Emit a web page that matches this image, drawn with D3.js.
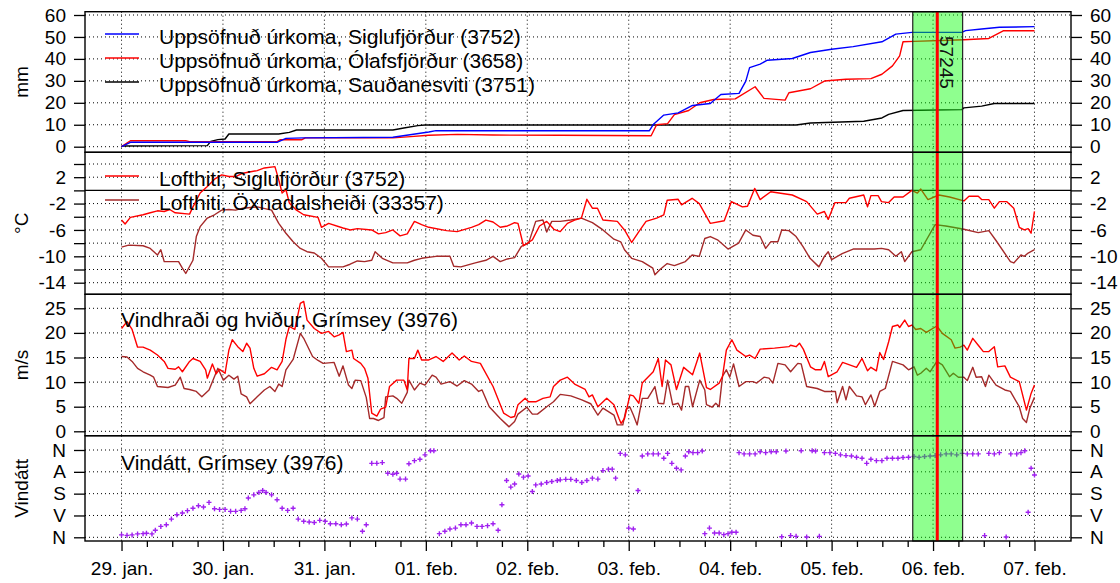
<!DOCTYPE html>
<html>
<head>
<meta charset="utf-8">
<script src="https://cdn.jsdelivr.net/npm/d3@7"></script>
<style>
  body { margin: 0; background: #fff; }
  svg text { font-family: "Liberation Sans", Arial, sans-serif; }
</style>
</head>
<body>
<div id="chart"></div>
<script>
// hours are counted from 29. jan. 00:00

// accumulated precipitation (mm)
var sigPrecHours = [0, 2.1, 36.8, 38.9, 43.1, 64.2, 72.7, 74.4, 124.9, 125.8, 128.3, 131.7, 135.1, 139.3, 141.8, 146.1, 147.7, 148.6, 151.1, 152.8, 158.7, 163.0, 168.0, 173.1, 179.9, 183.2, 187.0, 198.8, 199.7, 203.5, 207.7, 216.0];
var sigPrec = [0, 2.0, 2.0, 3.8, 4.0, 4.3, 6.7, 7.3, 7.3, 10.1, 14.4, 15.4, 18.8, 19.7, 23.8, 24.3, 29.9, 36.0, 37.6, 39.4, 40.2, 42.9, 44.4, 45.6, 47.8, 51.3, 52.1, 52.1, 52.9, 53.6, 54.4, 54.7];

var olaPrecHours = [0, 2.1, 15.2, 16.1, 36.8, 37.6, 42.7, 43.5, 64.2, 68.4, 72.7, 79.4, 87.9, 103.8, 125.3, 126.6, 129.2, 130.8, 134.2, 136.8, 140.1, 145.2, 149.9, 152.0, 157.0, 157.9, 163.0, 166.3, 171.4, 177.3, 179.9, 182.4, 184.1, 184.9, 187.5, 199.3, 205.2, 208.6, 216.0];
var olaPrec = [0, 2.7, 2.7, 2.3, 2.3, 3.2, 3.2, 4.0, 4.0, 4.6, 5.2, 5.6, 5.3, 5.2, 5.0, 10.0, 10.5, 14.6, 16.5, 20.0, 21.5, 21.8, 27.3, 22.0, 21.2, 24.6, 26.4, 29.9, 30.7, 31.0, 33.0, 36.8, 41.4, 47.8, 48.0, 48.7, 49.3, 52.8, 52.8];

var sauPrecHours = [0, 20.3, 21.1, 22.8, 24.5, 25.4, 37.2, 39.7, 41.4, 64.2, 66.8, 70.1, 71.8, 159.6, 163.0, 175.6, 179.9, 181.5, 184.9, 198.8, 199.3, 203.5, 206.5, 216.0];
var sauPrec = [0.3, 0.5, 2.4, 3.2, 3.5, 5.8, 5.8, 6.5, 7.6, 7.6, 8.5, 9.6, 9.9, 9.9, 10.8, 11.6, 13.1, 14.7, 16.5, 16.9, 17.7, 18.5, 19.7, 19.7];

// air temperature (°C)
var sigTempHours = [0, 0.85, 2.1, 5.1, 6.8, 8.5, 10.1, 11.4, 12.7, 16.1, 16.9, 18.6, 20.3, 22.0, 23.7, 25.4, 27.0, 28.7, 32.1, 33.8, 36.3, 37.2, 38.0, 38.9, 39.7, 41.4, 43.1, 46.5, 47.3, 49.0, 52.4, 54.1, 55.8, 59.2, 60.8, 62.5, 64.2, 65.9, 67.6, 69.3, 71.0, 72.7, 76.9, 79.4, 82.8, 84.5, 86.2, 87.9, 89.6, 91.3, 93.0, 93.8, 95.1, 97.2, 98.9, 100.6, 102.3, 103.8, 105.5, 107.2, 108.8, 110.1, 111.4, 112.6, 113.9, 117.3, 119.0, 120.7, 122.4, 124.1, 126.6, 128.3, 129.1, 131.7, 132.5, 135.0, 136.7, 139.3, 142.6, 144.3, 146.9, 148.1, 149.8, 151.1, 153.6, 158.7, 162.1, 164.6, 166.3, 167.2, 168.8, 171.4, 172.2, 175.6, 176.5, 177.3, 179.0, 179.8, 181.5, 182.8, 184.9, 187.0, 188.3, 189.1, 190.8, 193.4, 195.9, 199.3, 200.5, 202.7, 203.5, 205.2, 206.5, 207.7, 209.4, 211.1, 212.4, 213.6, 214.5, 215.2, 216.0];
var sigTemp = [-4.5, -5.1, -4.1, -3.7, -3.4, -3.1, -3.2, -2.9, -3.4, -3.6, -2.5, -0.4, 0.6, 1.7, 2.35, 2.1, 2.1, 2.6, 3.0, 3.4, 3.6, 1.6, -0.4, 0.1, -1.9, -3.0, -3.7, -4.1, -5.6, -5.0, -5.7, -6.0, -5.8, -6.0, -6.6, -6.4, -6.0, -6.9, -6.6, -4.7, -5.2, -5.6, -6.1, -6.25, -5.6, -5.2, -4.5, -4.8, -5.6, -5.4, -4.9, -5.0, -8.4, -7.5, -5.4, -4.7, -5.9, -6.25, -5.0, -4.5, -4.2, -1.35, -2.7, -2.7, -4.5, -4.7, -6.0, -7.9, -6.25, -4.7, -4.2, -3.7, -1.5, -1.35, -2.2, -1.2, -2.0, -5.0, -4.6, -1.7, -2.5, -2.4, 0.3, -1.4, -0.2, -0.7, -1.7, -3.6, -3.2, -4.4, -1.85, -1.85, -1.2, -0.7, -2.5, -0.8, -0.8, -1.7, -1.85, -1.0, -1.0, 0.0, -0.4, 0.2, -1.4, -0.7, -1.0, -1.6, -0.9, -0.9, -1.4, -1.4, -2.7, -1.7, -1.7, -2.7, -5.6, -6.0, -5.8, -6.5, -3.2];

var oxnTempHours = [0, 1.7, 5.1, 6.8, 8.5, 9.3, 10.1, 13.5, 14.4, 15.2, 16.9, 17.7, 18.6, 20.3, 22.0, 23.7, 25.4, 27.0, 28.7, 32.1, 35.5, 37.2, 38.9, 40.6, 42.3, 43.9, 45.6, 47.3, 49.0, 52.4, 54.1, 55.8, 57.5, 59.2, 60.0, 61.7, 64.2, 67.6, 69.3, 71.0, 74.4, 77.7, 78.6, 80.3, 82.0, 83.7, 86.2, 87.9, 89.6, 91.3, 93.0, 94.6, 96.3, 98.0, 99.7, 100.6, 101.8, 103.8, 106.3, 108.8, 111.4, 113.9, 116.5, 118.1, 119.0, 120.7, 123.2, 125.7, 126.2, 127.4, 129.1, 130.8, 133.4, 135.0, 136.7, 138.0, 139.3, 141.0, 143.5, 146.0, 147.7, 149.4, 151.1, 152.4, 153.6, 155.3, 156.2, 157.9, 159.6, 161.2, 162.9, 165.0, 166.3, 167.2, 168.0, 170.5, 173.1, 178.1, 179.8, 181.5, 183.2, 184.5, 185.3, 187.0, 189.1, 192.5, 195.0, 196.7, 199.3, 202.7, 205.2, 206.9, 210.3, 211.1, 212.8, 213.6, 214.5, 216.0];
var oxnTemp = [-8.6, -8.3, -8.4, -8.8, -9.8, -9.0, -10.8, -10.8, -11.8, -12.6, -10.6, -7.0, -5.5, -4.2, -3.7, -3.0, -2.9, -3.0, -2.7, -2.5, -3.0, -5.0, -6.5, -7.8, -8.8, -9.3, -9.5, -10.3, -11.6, -11.6, -11.2, -10.7, -10.8, -10.6, -9.3, -10.3, -11.0, -11.0, -10.6, -10.3, -10.0, -10.0, -11.5, -11.6, -11.3, -11.0, -10.6, -10.0, -10.8, -10.4, -10.2, -8.5, -8.0, -4.7, -4.5, -6.3, -4.7, -4.7, -4.5, -4.2, -4.9, -6.0, -7.4, -7.8, -9.0, -10.3, -10.8, -11.8, -12.8, -12.0, -11.1, -11.4, -10.8, -9.8, -10.0, -7.3, -7.0, -7.5, -8.9, -8.0, -6.0, -6.8, -7.0, -8.8, -7.8, -7.8, -6.0, -6.1, -7.0, -8.5, -10.3, -11.6, -10.0, -9.3, -10.5, -9.6, -8.9, -8.9, -8.8, -9.0, -10.0, -9.3, -10.8, -9.3, -9.0, -5.2, -5.4, -5.6, -5.9, -6.4, -6.1, -7.6, -10.8, -11.0, -9.8, -10.0, -9.5, -9.0];

// wind speed and gusts, Grímsey (m/s)
var gustHours = [0, 1.3, 2.5, 3.8, 5.1, 6.8, 8.5, 10.1, 11.0, 12.7, 13.5, 14.4, 16.1, 16.9, 18.6, 19.9, 20.3, 21.5, 22.4, 23.2, 24.5, 25.4, 26.2, 27.5, 28.7, 29.6, 30.4, 31.3, 32.1, 33.8, 35.5, 36.8, 38.0, 38.9, 39.7, 41.0, 42.3, 43.1, 43.9, 45.6, 47.3, 49.0, 50.3, 51.5, 52.4, 53.2, 54.5, 54.9, 56.6, 57.5, 58.3, 59.2, 60.4, 61.3, 62.5, 63.4, 65.1, 66.8, 67.6, 68.0, 69.3, 70.1, 71.0, 72.7, 74.4, 76.1, 78.2, 79.9, 81.1, 82.8, 84.9, 87.9, 90.4, 92.1, 93.0, 93.8, 95.5, 96.3, 98.0, 99.7, 101.4, 102.2, 103.8, 105.5, 107.2, 109.7, 110.6, 111.4, 112.7, 114.8, 116.5, 117.7, 118.2, 119.0, 120.3, 121.1, 122.4, 123.2, 125.8, 127.0, 127.9, 128.7, 130.0, 131.3, 133.0, 135.1, 136.8, 138.4, 139.3, 141.4, 142.2, 143.1, 144.4, 145.6, 147.7, 148.6, 149.9, 151.1, 154.5, 157.9, 158.3, 159.6, 160.4, 161.3, 163.0, 164.2, 165.5, 166.3, 167.2, 169.3, 170.6, 173.9, 175.2, 176.5, 177.3, 178.6, 179.4, 180.3, 181.5, 182.4, 183.7, 184.1, 185.3, 186.2, 187.0, 187.9, 189.1, 190.4, 192.9, 194.2, 196.3, 197.2, 198.4, 199.3, 200.1, 201.4, 202.7, 203.9, 205.2, 206.5, 207.3, 209.0, 210.3, 212.4, 214.1, 215.2, 216.0];
var gust = [20.9, 22.3, 20.7, 17.1, 17.1, 16.5, 15.5, 14.2, 12.8, 12.6, 13.1, 12.1, 14.2, 14.8, 14.2, 12.5, 10.8, 13.7, 11.7, 12.6, 11.8, 16.5, 18.6, 17.2, 16.2, 17.9, 16.9, 12.8, 11.2, 11.7, 13.0, 12.5, 14.2, 18.7, 21.3, 20.7, 26.0, 26.4, 22.6, 20.9, 19.9, 20.3, 19.2, 19.6, 20.1, 16.2, 16.5, 14.8, 13.8, 12.8, 10.8, 3.7, 3.1, 4.5, 4.9, 9.1, 10.4, 10.4, 8.4, 14.8, 14.8, 16.5, 14.5, 14.5, 15.2, 14.2, 15.9, 14.5, 15.3, 14.2, 13.8, 9.1, 3.7, 2.8, 3.0, 5.4, 6.7, 6.0, 6.0, 6.7, 7.0, 9.1, 10.4, 11.0, 9.6, 8.5, 7.0, 7.4, 5.0, 6.7, 5.4, 2.6, 1.6, 2.6, 7.4, 7.2, 5.7, 9.8, 12.1, 14.8, 9.1, 14.5, 13.5, 8.5, 13.0, 11.5, 15.9, 8.9, 8.5, 9.8, 11.2, 16.5, 18.6, 16.5, 15.2, 15.5, 14.8, 16.7, 16.9, 17.2, 17.5, 17.2, 17.9, 16.7, 13.1, 12.5, 12.5, 14.2, 11.1, 12.1, 14.0, 13.0, 14.8, 12.3, 13.0, 12.3, 16.0, 14.6, 18.2, 21.3, 21.6, 21.1, 22.6, 21.3, 21.6, 20.7, 20.9, 20.1, 21.4, 19.9, 18.6, 16.9, 17.1, 17.5, 16.5, 18.9, 17.5, 16.2, 16.2, 17.2, 13.1, 13.3, 11.0, 10.1, 4.3, 7.7, 9.4];

var meanHours = [0, 1.3, 2.5, 3.8, 5.1, 6.8, 7.6, 8.5, 11.0, 12.7, 13.9, 14.8, 16.1, 17.7, 19.0, 20.7, 22.8, 24.1, 25.4, 26.6, 27.5, 28.3, 29.6, 30.4, 32.1, 33.8, 35.1, 36.3, 37.2, 38.0, 38.9, 40.6, 42.3, 43.1, 45.2, 46.5, 47.7, 50.3, 51.5, 52.4, 53.7, 54.5, 55.3, 56.6, 57.9, 58.7, 59.6, 60.8, 62.1, 62.5, 64.2, 65.1, 66.3, 67.6, 68.0, 69.3, 70.6, 71.8, 73.5, 74.4, 75.6, 77.7, 79.4, 81.1, 82.8, 84.5, 85.3, 87.0, 89.6, 91.7, 93.0, 93.8, 95.9, 97.2, 98.4, 100.6, 102.2, 103.8, 106.3, 108.9, 111.0, 112.7, 113.9, 116.5, 117.3, 118.6, 119.4, 120.3, 121.1, 122.0, 123.2, 124.5, 126.2, 127.0, 128.3, 129.2, 130.4, 131.7, 132.5, 133.4, 134.2, 135.1, 136.8, 138.0, 138.4, 139.7, 140.6, 141.4, 142.2, 143.1, 143.9, 144.8, 146.1, 147.7, 149.4, 150.3, 152.0, 153.2, 154.1, 155.3, 157.0, 158.3, 160.0, 160.8, 162.1, 164.6, 166.3, 168.9, 169.3, 170.6, 171.4, 172.2, 173.9, 175.2, 176.0, 177.3, 178.2, 179.4, 180.7, 182.4, 184.9, 186.2, 187.5, 188.3, 189.1, 190.4, 191.3, 192.9, 194.2, 195.9, 196.8, 198.0, 199.3, 200.1, 201.4, 202.2, 203.5, 204.4, 205.2, 206.9, 209.0, 210.3, 212.4, 213.2, 214.1, 214.9, 216.0];
var mean = [15.2, 15.1, 14.2, 12.8, 12.1, 11.4, 11.0, 9.1, 8.9, 9.4, 11.0, 8.7, 8.5, 8.1, 7.0, 8.4, 12.8, 10.4, 11.4, 10.6, 11.2, 7.6, 7.0, 5.6, 7.0, 8.4, 9.1, 8.1, 9.6, 9.1, 12.5, 14.6, 19.9, 18.9, 15.2, 14.4, 13.8, 14.0, 11.2, 13.3, 9.4, 8.7, 10.4, 10.3, 6.9, 2.6, 2.6, 2.2, 2.8, 7.0, 7.2, 6.7, 5.7, 7.9, 10.4, 8.4, 9.8, 9.4, 11.4, 11.0, 9.6, 10.1, 9.2, 10.3, 9.6, 8.1, 8.4, 5.0, 2.6, 0.9, 2.0, 3.5, 4.9, 3.5, 3.5, 5.0, 6.0, 7.5, 7.2, 6.4, 5.6, 3.3, 4.7, 3.3, 1.3, 1.3, 4.5, 4.9, 3.3, 1.3, 6.7, 6.7, 9.1, 5.7, 5.6, 10.4, 5.4, 5.7, 4.3, 9.1, 9.1, 5.0, 10.4, 8.4, 5.4, 4.9, 5.7, 5.0, 11.2, 12.5, 11.0, 13.7, 9.1, 10.1, 10.1, 9.8, 11.0, 10.8, 9.8, 13.8, 13.5, 12.1, 13.8, 13.7, 9.1, 8.7, 8.1, 8.1, 5.8, 9.1, 6.4, 9.1, 7.2, 7.0, 5.4, 7.4, 5.1, 8.1, 8.7, 14.2, 13.5, 12.5, 13.1, 11.4, 11.8, 12.8, 12.1, 14.2, 13.5, 11.1, 11.8, 11.0, 11.0, 10.3, 13.0, 11.0, 11.1, 9.1, 11.4, 9.4, 8.4, 8.1, 5.0, 2.6, 1.8, 4.7, 6.9];

// wind direction, Grímsey (degrees)
var dirHours = [0, 1.3, 2.5, 3.8, 5.1, 5.9, 7.2, 8.0, 9.3, 10.6, 11.8, 13.1, 14.4, 15.6, 16.9, 18.2, 19.4, 20.7, 22.0, 23.2, 24.5, 25.8, 27.0, 28.3, 29.2, 30.0, 31.3, 32.5, 33.4, 34.2, 35.5, 36.8, 38.0, 39.3, 40.6, 41.8, 43.1, 44.4, 45.6, 46.9, 48.2, 49.4, 50.7, 52.0, 53.2, 54.5, 55.8, 57.0, 57.9, 59.2, 60.4, 61.7, 63.0, 64.2, 65.1, 65.9, 67.2, 68.0, 69.3, 70.6, 71.8, 73.1, 73.9, 75.2, 76.5, 77.7, 79.0, 80.3, 81.5, 82.8, 84.1, 85.3, 86.6, 87.9, 89.1, 90.0, 91.1, 92.1, 93.0, 94.0, 95.1, 96.2, 97.2, 98.0, 99.3, 100.6, 101.8, 103.1, 103.8, 105.1, 106.3, 107.6, 108.9, 110.1, 111.4, 112.7, 113.9, 115.2, 116.1, 116.9, 118.0, 119.2, 120.0, 121.1, 122.2, 123.2, 124.5, 125.8, 127.0, 128.3, 129.2, 130.2, 131.3, 132.4, 133.4, 134.2, 135.2, 136.3, 137.4, 138.0, 139.1, 140.3, 141.4, 142.5, 143.5, 144.4, 145.4, 146.1, 147.3, 148.6, 149.9, 151.1, 152.4, 153.7, 154.9, 156.2, 157.2, 158.3, 159.6, 160.8, 162.1, 163.4, 164.2, 165.1, 166.3, 167.6, 168.9, 170.1, 171.4, 172.7, 173.9, 175.2, 176.3, 177.3, 178.6, 179.9, 181.1, 182.4, 183.7, 184.9, 186.2, 187.5, 188.7, 190.0, 191.3, 192.5, 193.8, 195.1, 196.3, 197.6, 198.9, 200.1, 201.4, 202.7, 204.2, 205.2, 206.5, 207.7, 209.3, 210.4, 211.8, 212.8, 213.7, 214.5, 215.2, 216.0];
var dirDeg = [350, 352, 350, 346, 345, 343, 346, 331, 315, 308, 285, 267, 260, 250, 240, 230, 235, 216, 242, 245, 245, 253, 253, 249, 242, 198, 185, 175, 167, 175, 185, 205, 240, 249, 240, 285, 294, 297, 299, 290, 294, 304, 304, 308, 305, 280, 285, 335, 308, 55, 55, 52, 96, 100, 96, 120, 120, 57, 44, 38, 20, 3, 3, 345, 335, 326, 322, 308, 308, 301, 315, 315, 312, 304, 331, 226, 126, 153, 140, 99, 112, 107, 171, 144, 140, 134, 130, 126, 123, 121, 121, 126, 134, 126, 116, 120, 85, 79, 79, 116, 14, 20, 322, 326, 167, 25, 16, 16, 16, 34, 14, 55, 75, 82, 25, 7, 11, 11, 4, 345, 322, 342, 342, 349, 345, 339, 339, 11, 16, 16, 16, 7, 11, 7, 7, 358, 4, 353, 356, 3, 359, 3, 4, 356, 11, 11, 14, 20, 23, 25, 30, 34, 55, 38, 44, 44, 34, 34, 34, 31, 30, 27, 30, 27, 25, 23, 20, 16, 16, 20, 14, 16, 16, 16, 353, 14, 16, 11, 359, 16, 16, 11, 3, 257, 75, 103];

// axis ticks and labels
var dayHours = [0, 24, 48, 72, 96, 120, 144, 168, 192, 216];
var dayLabels = ["29. jan.", "30. jan.", "31. jan.", "01. feb.", "02. feb.", "03. feb.", "04. feb.", "05. feb.", "06. feb.", "07. feb."];
var precTicks = [0, 10, 20, 30, 40, 50, 60];
var tempTicks = [-14, -12, -10, -8, -6, -4, -2, 0, 2, 4];
var tempLabelled = [2, -2, -6, -10, -14];
var windTicks = [0, 5, 10, 15, 20, 25];
var dirTicks = [0, 90, 180, 270, 360];
var dirLabels = ["N", "A", "S", "V", "N"];

// highlighted period and marker
var bandStart = 187.2, bandEnd = 199.0;
var markerHour = 193.0, markerLabel = "57245";

var W = 1120, H = 583, left = 85, right = 1071, fs = 19, legendFs = 21;

var svg = d3.select("#chart").append("svg")
  .attr("width", W)
  .attr("height", H);

var x = d3.scaleLinear().domain([-8.64, 224.64]).range([left, right]);

var panels = [
  { top: 11.7, bottom: 152.3, title: "mm",
    y: d3.scaleLinear().domain([0, 60]).range([146.7, 15]),
    ticks: precTicks, fmt: function (d) { return d; } },
  { top: 152.3, bottom: 294.3, title: "°C",
    y: d3.scaleLinear().domain([-14, 4]).range([282.7, 164]),
    ticks: tempTicks, fmt: function (d) { return tempLabelled.indexOf(d) >= 0 ? String(d) : ""; } },
  { top: 294.3, bottom: 435.7, title: "m/s",
    y: d3.scaleLinear().domain([0, 25]).range([431.3, 308.3]),
    ticks: windTicks, fmt: function (d) { return d; } },
  { top: 435.7, bottom: 541, title: "Vindátt",
    y: d3.scaleLinear().domain([0, 360]).range([450, 537.3]),
    ticks: dirTicks, fmt: function (d, i) { return dirLabels[i]; } }
];

var defs = svg.append("defs");
panels.forEach(function (p, i) {
  defs.append("clipPath").attr("id", "clip" + i)
    .append("rect")
    .attr("x", left).attr("y", p.top)
    .attr("width", right - left).attr("height", p.bottom - p.top);
});

// dotted grid
panels.forEach(function (p, i) {
  var g = svg.append("g").attr("class", "grid");
  g.selectAll("line.h")
    .data(p.ticks.filter(function (d) { return !(i == 1 && d == 0); }))
    .enter().append("line")
    .attr("x1", left).attr("x2", right)
    .attr("y1", function (d) { return p.y(d); })
    .attr("y2", function (d) { return p.y(d); });
  g.selectAll("line.v")
    .data(dayHours)
    .enter().append("line")
    .attr("x1", function (d) { return x(d); })
    .attr("x2", function (d) { return x(d); })
    .attr("y1", p.top).attr("y2", p.bottom);
  g.selectAll("line")
    .attr("stroke", "#000")
    .attr("stroke-width", 1)
    .attr("stroke-dasharray", "1,3");
});

// solid zero line in the temperature panel
svg.append("line")
  .attr("x1", left).attr("x2", right)
  .attr("y1", panels[1].y(0)).attr("y2", panels[1].y(0))
  .attr("stroke", "#000").attr("stroke-width", 1.3);

function drawLine(i, hours, values, colour, width) {
  var p = panels[i];
  var line = d3.line()
    .x(function (d) { return x(d[0]); })
    .y(function (d) { return p.y(d[1]); });
  svg.append("path")
    .datum(d3.zip(hours, values))
    .attr("clip-path", "url(#clip" + i + ")")
    .attr("fill", "none")
    .attr("stroke", colour)
    .attr("stroke-width", width)
    .attr("stroke-linejoin", "round")
    .attr("d", line);
}

drawLine(0, sauPrecHours, sauPrec, "#000000", 1.4);
drawLine(0, olaPrecHours, olaPrec, "#ff0000", 1.4);
drawLine(0, sigPrecHours, sigPrec, "#0000ff", 1.4);
drawLine(1, oxnTempHours, oxnTemp, "#a52a2a", 1.4);
drawLine(1, sigTempHours, sigTemp, "#ff0000", 1.4);
drawLine(2, meanHours, mean, "#a52a2a", 1.4);
drawLine(2, gustHours, gust, "#ff0000", 1.4);

// wind direction as small crosses
svg.append("g")
  .attr("clip-path", "url(#clip3)")
  .selectAll("path")
  .data(d3.zip(dirHours, dirDeg))
  .enter().append("path")
  .attr("transform", function (d) {
    return "translate(" + x(d[0]) + "," + panels[3].y(d[1]) + ")";
  })
  .attr("d", "M-2.5,0H2.5M0,-2.5V2.5")
  .attr("stroke", "#a020f0")
  .attr("stroke-width", 1.4);

// highlighted period
svg.append("rect")
  .attr("x", x(bandStart)).attr("y", panels[0].top)
  .attr("width", x(bandEnd) - x(bandStart))
  .attr("height", panels[3].bottom - panels[0].top)
  .attr("fill", "rgba(0,255,0,0.44)")
  .attr("stroke", "#222")
  .attr("stroke-width", 1.2);

svg.append("line")
  .attr("x1", x(markerHour)).attr("x2", x(markerHour))
  .attr("y1", panels[0].top).attr("y2", panels[3].bottom)
  .attr("stroke", "#ff0000")
  .attr("stroke-width", 3);

svg.append("text")
  .attr("transform", "translate(" + (x(markerHour) + 3) + ",36) rotate(90)")
  .attr("font-size", fs)
  .attr("fill", "#111")
  .text(markerLabel);

// panel boxes and axes
panels.forEach(function (p, i) {
  svg.append("rect")
    .attr("x", left).attr("y", p.top)
    .attr("width", right - left).attr("height", p.bottom - p.top)
    .attr("fill", "none")
    .attr("stroke", "#000")
    .attr("stroke-width", 1.4);

  [["L", left, d3.axisLeft], ["R", right, d3.axisRight]].forEach(function (s) {
    svg.append("g")
      .attr("transform", "translate(" + s[1] + ",0)")
      .call(s[2](p.y).tickValues(p.ticks).tickSize(11).tickPadding(8).tickFormat(p.fmt))
      .call(function (g) {
        g.select(".domain").remove();
        g.attr("font-size", fs).attr("font-family", null);
        g.selectAll(".tick line").attr("stroke-width", 1.3);
        g.selectAll(".tick text").attr("fill", "#000");
      });
  });

  svg.append("text")
    .attr("transform", "translate(28," + (p.top + p.bottom) / 2 + ") rotate(-90)")
    .attr("text-anchor", "middle")
    .attr("font-size", fs)
    .text(p.title);
});

// time axis
var sixHours = d3.range(0, 217, 6).filter(function (d) { return d % 24 != 0; });
svg.append("g")
  .attr("transform", "translate(0," + panels[3].bottom + ")")
  .call(d3.axisBottom(x).tickValues(sixHours).tickSize(6).tickFormat(""))
  .call(function (g) {
    g.select(".domain").remove();
    g.selectAll(".tick line").attr("stroke-width", 1.3);
  });
svg.append("g")
  .attr("transform", "translate(0," + panels[3].bottom + ")")
  .call(d3.axisBottom(x).tickValues(dayHours).tickSize(10).tickPadding(11)
    .tickFormat(function (d, i) { return dayLabels[i]; }))
  .call(function (g) {
    g.select(".domain").remove();
    g.attr("font-size", fs).attr("font-family", null);
    g.selectAll(".tick line").attr("stroke-width", 1.3);
    g.selectAll(".tick text").attr("fill", "#000");
  });

// legends and panel titles
function legendRow(lineY, colour, label) {
  svg.append("line")
    .attr("x1", 105).attr("x2", 139)
    .attr("y1", lineY).attr("y2", lineY)
    .attr("stroke", colour).attr("stroke-width", 1.4);
  svg.append("text")
    .attr("x", 159).attr("y", lineY + 10)
    .attr("font-size", legendFs)
    .text(label);
}
legendRow(34, "#0000ff", "Uppsöfnuð úrkoma, Siglufjörður (3752)");
legendRow(58, "#ff0000", "Uppsöfnuð úrkoma, Ólafsfjörður (3658)");
legendRow(82, "#000000", "Uppsöfnuð úrkoma, Sauðanesviti (3751)");
legendRow(176, "#ff0000", "Lofthiti, Siglufjörður (3752)");
legendRow(200, "#a52a2a", "Lofthiti, Öxnadalsheiði (33357)");

svg.append("text").attr("x", 121).attr("y", 327).attr("font-size", legendFs)
  .text("Vindhraði og hviður, Grímsey (3976)");
svg.append("text").attr("x", 121).attr("y", 470).attr("font-size", legendFs)
  .text("Vindátt, Grímsey (3976)");
</script>
</body>
</html>
